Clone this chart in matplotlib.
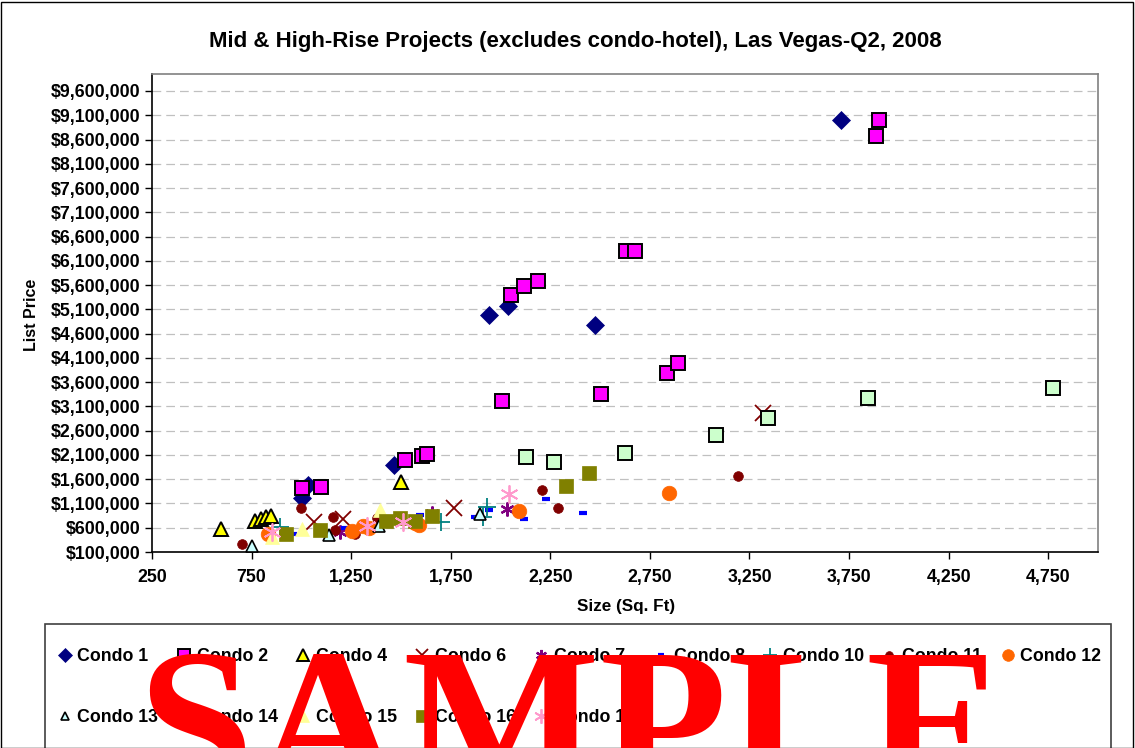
import matplotlib
matplotlib.use("Agg")
import matplotlib.pyplot as plt
from matplotlib.ticker import FuncFormatter, FixedLocator
from matplotlib.patches import Rectangle

plt.rcParams['font.family'] = ['Liberation Sans', 'DejaVu Sans']
plt.rcParams['font.weight'] = 'bold'

# ---------------- data ----------------
c1_x = [3710, 1940, 2040, 2472, 1464, 1032, 1002]
c1_y = [9000000, 4980000, 5170000, 4780000, 1890000, 1480000, 1210000]

c2_x = [3900, 3886, 2632, 2677, 2055, 2120, 2190, 2838, 2893, 2005, 2502, 1519, 1604, 1630, 1002, 1098]
c2_y = [9000000, 8680000, 6300000, 6300000, 5400000, 5580000, 5690000, 3790000, 4000000, 3210000,
        3360000, 2000000, 2080000, 2110000, 1420000, 1440000]

c4_x = [596, 767, 797, 822, 847, 1502]
c4_y = [574000, 740000, 780000, 820000, 840000, 1540000]

c6_x = [1065, 1210, 1765, 3320]
c6_y = [720000, 780000, 1000000, 2960000]

c7_x = [1195, 1655, 2030]
c7_y = [510000, 910000, 990000]

c8_x = [957, 1218, 1594, 1870, 1940, 2116, 2226, 2416]
c8_y = [470000, 595000, 860000, 820000, 965000, 780000, 1190000, 905000]

c10_x = [892, 1700, 1910, 1930]
c10_y = [615000, 720000, 820000, 1030000]

c11_x = [700, 997, 1160, 1168, 1268, 1380, 2206, 2291, 3194]
c11_y = [265000, 1000000, 830000, 553000, 480000, 800000, 1380000, 1000000, 1670000]

c12_x = [832, 1252, 1308, 1340, 1569, 1590, 2091, 2848]
c12_y = [470000, 540000, 636000, 600000, 700000, 660000, 945000, 1320000]

c13_x = [750, 1140, 1390, 1895]
c13_y = [225000, 450000, 636000, 890000]

c14_x = [4774, 3846, 3344, 3083, 2627, 2266, 2130]
c14_y = [3480000, 3270000, 2860000, 2510000, 2140000, 1950000, 2060000]

c15_x = [852, 1002, 1393]
c15_y = [410000, 574000, 970000]

c16_x = [922, 1093, 1424, 1494, 1569, 1654, 2331, 2442]
c16_y = [470000, 553000, 740000, 800000, 740000, 842000, 1460000, 1730000]

c17_x = [852, 1328, 1510, 2045]
c17_y = [510000, 636000, 720000, 1300000]

x_ticks = [250, 750, 1250, 1750, 2250, 2750, 3250, 3750, 4250, 4750]
y_ticks = [100000 + 500000 * i for i in range(20)]

title = "Mid & High-Rise Projects (excludes condo-hotel), Las Vegas-Q2, 2008"

# ---------------- figure ----------------
W, H = 1135, 748
fig = plt.figure(figsize=(W / 100, H / 100), dpi=100)
ax = fig.add_axes([152 / W, 1 - 552 / H, (1098 - 152) / W, (552 - 74) / H])

ast = (6, 2, 0)
series = [
    ("Condo 1", c1_x, c1_y, dict(marker='D', ms=9, mfc='#000080', mec='#000080', mew=0.5)),
    ("Condo 2", c2_x, c2_y, dict(marker='s', ms=10, mfc='#FF00FF', mec='black', mew=1.4)),
    ("Condo 4", c4_x, c4_y, dict(marker='^', ms=10, mfc='#FFFF00', mec='black', mew=1.4)),
    ("Condo 6", c6_x, c6_y, dict(marker='x', ms=11, mfc='#800000', mec='#800000', mew=1.3)),
    ("Condo 7", c7_x, c7_y, dict(marker=ast, ms=10, mfc='#800080', mec='#800080', mew=1.6)),
    ("Condo 8", c8_x, c8_y, dict(marker='_', ms=6, mfc='#0000FF', mec='#0000FF', mew=3)),
    ("Condo 10", c10_x, c10_y, dict(marker='+', ms=13, mfc='#008080', mec='#008080', mew=1.3)),
    ("Condo 11", c11_x, c11_y, dict(marker='o', ms=7, mfc='#800000', mec='#800000', mew=0.5)),
    ("Condo 12", c12_x, c12_y, dict(marker='o', ms=10.5, mfc='#FF6600', mec='#FF6600', mew=0.5)),
    ("Condo 13", c13_x, c13_y, dict(marker='^', ms=8, mfc='#CCFFFF', mec='black', mew=1.2)),
    ("Condo 14", c14_x, c14_y, dict(marker='s', ms=10, mfc='#CCFFCC', mec='black', mew=1.4)),
    ("Condo 15", c15_x, c15_y, dict(marker='^', ms=10, mfc='#FFFF99', mec='#FFFF99', mew=0.5)),
    ("Condo 16", c16_x, c16_y, dict(marker='s', ms=10.5, mfc='#808000', mec='#808000', mew=0.5)),
    ("Condo 17", c17_x, c17_y, dict(marker=ast, ms=13, mfc='#FF99CC', mec='#FF99CC', mew=1.3)),
]

handles = {}
for i, (name, xs, ys, st) in enumerate(series):
    h, = ax.plot(xs, ys, linestyle='none', label=name, zorder=3 + i * 0.01, clip_on=False, **st)
    handles[name] = h

ax.set_xlim(250, 5000)
ax.set_ylim(100000, 9950000)
ax.xaxis.set_major_locator(FixedLocator(x_ticks))
ax.yaxis.set_major_locator(FixedLocator(y_ticks))
ax.xaxis.set_major_formatter(FuncFormatter(lambda v, p: f"{int(round(v)):,}"))
ax.yaxis.set_major_formatter(FuncFormatter(lambda v, p: f"${int(round(v)):,}"))
ax.tick_params(axis='both', direction='out', length=5, width=1, colors='black',
               labelsize=12.8)
ax.tick_params(axis='x', pad=7)
ax.tick_params(axis='y', pad=3)
for lab in ax.get_xticklabels() + ax.get_yticklabels():
    lab.set_fontweight('bold')

ax.grid(axis='y', color='#C0C0C0', linestyle=(0, (7, 4)), linewidth=0.9)
ax.set_axisbelow(True)
for s in ['left', 'bottom']:
    ax.spines[s].set_color('black')
    ax.spines[s].set_linewidth(1.2)
for s in ['top', 'right']:
    ax.spines[s].set_color('#808080')
    ax.spines[s].set_linewidth(1.2)

fig.text(575 / W, 1 - 41 / H, title, ha='center', va='center', fontsize=16, fontweight='bold')
fig.text(32 / W, 1 - 315 / H, "List Price", ha='center', va='center', rotation=90,
         fontsize=11.5, fontweight='bold')
fig.text(626 / W, 1 - 606 / H, "Size (Sq. Ft)", ha='center', va='center',
         fontsize=12.3, fontweight='bold')

# legend box
fig.patches.append(Rectangle((45 / W, 1 - 790 / H), (1111 - 45) / W, (790 - 624) / H,
                             transform=fig.transFigure, facecolor='none', edgecolor='#404040',
                             linewidth=1.2, clip_on=False))
order = ["Condo 1", "Condo 13", "Condo 2", "Condo 14", "Condo 4", "Condo 15", "Condo 6",
         "Condo 16", "Condo 7", "Condo 17", "Condo 8", "Condo 10", "Condo 11", "Condo 12"]
leg = fig.legend([handles[n] for n in order], order, ncol=9, loc='upper left',
                 bbox_to_anchor=(57 / W, 1 - 648 / H), frameon=False,
                 prop=dict(size=12.8, weight='bold'), handlelength=0.85, handletextpad=0.3,
                 columnspacing=1.0, labelspacing=2.48, markerscale=0.8, borderaxespad=0,
                 borderpad=0)

# outer border
fig.patches.append(Rectangle((1 / W, 0), (W - 3) / W, (H - 2) / H, transform=fig.transFigure,
                             facecolor='none', edgecolor='black', linewidth=1.0))

# watermark
fig.text(572 / W, 1 - 791 / H, "SAMPLE", ha='center', va='baseline', color='#FF0000',
         fontsize=150, fontweight='bold', family=['Liberation Serif', 'DejaVu Serif'], zorder=10)

fig.savefig("out.png", dpi=100)
